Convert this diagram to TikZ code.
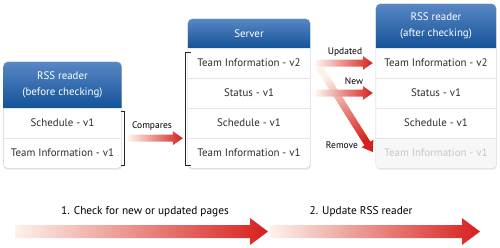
\documentclass[tikz,border=0pt]{standalone}
\usepackage{fontspec}
\setmainfont{PT Sans}
\usetikzlibrary{calc,shadows}

\pgfdeclarelayer{background}
\pgfsetlayers{background,main}

\definecolor{hdtop}{RGB}{88,135,196}
\definecolor{hdbot}{RGB}{20,82,152}
\definecolor{arrred}{RGB}{214,32,28}
\definecolor{arrmid}{RGB}{238,155,118}
\definecolor{arrpale}{RGB}{253,242,235}
\definecolor{rowtxt}{RGB}{45,45,45}
\definecolor{cardline}{RGB}{208,208,208}

% shaded arrow: start, end, shading angle, half shaft, half head, head length
\newcommand{\fadearrow}[6]{%
  \coordinate (fa-c) at ($(#2)!#6!(#1)$);
  \shade[fadearrow, shading angle=#3]
    ($(#1)!#4!90:(#2)$) -- ($(fa-c)!#4!90:(#2)$) -- ($(fa-c)!#5!90:(#2)$) -- (#2)
    -- ($(fa-c)!#5!-90:(#2)$) -- ($(fa-c)!#4!-90:(#2)$) -- ($(#1)!#4!-90:(#2)$) -- cycle;
}

\begin{document}
\begin{tikzpicture}[x=1pt, y=-1pt,
    row/.style={minimum width=#1, minimum height=30pt, inner sep=0pt,
      font=\fontsize{10.9}{12}\selectfont, text=rowtxt},
    head/.style={inner sep=0pt, align=center, text=white,
      font=\fontsize{10.9}{16.5}\selectfont},
    card/.style={draw=cardline, fill=white, rounded corners=4pt,
      drop shadow={shadow xshift=0.5pt, shadow yshift=-1.5pt, opacity=0.2}},
    hdshade/.style={top color=hdtop, bottom color=hdbot, rounded corners=5pt},
    sep/.style={draw=black!10},
    brace/.style={draw=black!85, line width=0.6pt},
    fadearrow/.style={top color=arrpale, middle color=arrmid, bottom color=arrred},
    lbl/.style={font=\fontsize{9.5}{10}\selectfont}
  ]
  \useasboundingbox (0,0) rectangle (500,247);

  % RSS reader before checking
  \node[head, minimum width=118pt, minimum height=46pt] (lhead) at (62.5,85) {RSS reader\\(before checking)};
  \node[row=118pt] (lsch) at (62.5,123) {Schedule - v1};
  \node[row=118pt] (lti1) at (62.5,153) {Team Information - v1};

  % Server
  \node[head, minimum width=122pt, minimum height=29pt] (shead) at (249,33.5) {Server};
  \node[row=122pt] (sti2) at (249,63) {Team Information - v2};
  \node[row=122pt] (sst) at (249,93) {Status - v1};
  \node[row=122pt] (ssch) at (249,123) {Schedule - v1};
  \node[row=122pt] (sti1) at (249,153) {Team Information - v1};

  % RSS reader after checking
  \node[head, minimum width=120pt, minimum height=44pt] (ahead) at (436,26) {RSS reader\\(after checking)};
  \node[row=120pt] (ati2) at (436,63) {Team Information - v2};
  \node[row=120pt] (ast) at (436,93) {Status - v1};
  \node[row=120pt] (asch) at (436,123) {Schedule - v1};
  \node[row=120pt, text=black!22] (ati1) at (436,153) {Team Information - v1};

  \begin{pgfonlayer}{background}
    \path[card] (lhead.north west) rectangle (lti1.south east);
    \path[card] (shead.north west) rectangle (sti1.south east);
    \path[card] (ahead.north west) rectangle (ati1.south east);
    \shade[hdshade] (lhead.south west) -- (lhead.north west) -- (lhead.north east) -- (lhead.south east);
    \shade[hdshade] (shead.south west) -- (shead.north west) -- (shead.north east) -- (shead.south east);
    \shade[hdshade] (ahead.south west) -- (ahead.north west) -- (ahead.north east) -- (ahead.south east);
    \path[fill=black!3, rounded corners=4pt] (ati1.north west) -- (ati1.south west) -- (ati1.south east) -- (ati1.north east);
    \draw[sep] (lsch.south west) -- (lsch.south east);
    \draw[sep] (sti2.south west) -- (sti2.south east);
    \draw[sep] (sst.south west) -- (sst.south east);
    \draw[sep] (ssch.south west) -- (ssch.south east);
    \draw[sep] (ati2.south west) -- (ati2.south east);
    \draw[sep] (ast.south west) -- (ast.south east);
    \draw[sep] (asch.south west) -- (asch.south east);
  \end{pgfonlayer}

  % brackets
  \draw[brace] ($(lsch.north east)+(-1,3)$) -- ++(4,0) |- ($(lti1.south east)+(-1,-3)$);
  \draw[brace] ($(sti2.north west)+(3,4)$) -- ++(-6,0) |- ($(sti1.south west)+(3,-3)$);

  % compare step
  \coordinate (cmpS) at ($(lsch.south east)+(7,0)$);
  \coordinate (cmpE) at ($(ssch.south west)+(-5,0)$);
  \fadearrow{cmpS}{cmpE}{90}{3.5pt}{7pt}{10pt}
  \node[lbl] (cmpL) at (152,126) {Compares};

  % update step
  \coordinate (updS) at ($(sti2.east)+(6,0)$);
  \coordinate (updE) at ($(ati2.west)+(-3,0)$);
  \coordinate (newS) at ($(sst.east)+(6,0)$);
  \coordinate (newE) at ($(ast.west)+(-3,0)$);
  \coordinate (remS) at ($(sti2.east)+(9,4)$);
  \coordinate (remE) at ($(ati1.west)+(-3,-1)$);
  \fadearrow{remS}{remE}{32}{3.5pt}{7pt}{10pt}
  \fadearrow{updS}{updE}{90}{3.5pt}{7pt}{10pt}
  \fadearrow{newS}{newE}{90}{3.5pt}{7pt}{10pt}
  \node[lbl] (updL) at (345,52) {Updated};
  \node[lbl] (newL) at (354,81) {New};
  \node[lbl] (remL) at (342,145) {Remove};

  % steps
  \coordinate (stepA) at (15,231.5);
  \coordinate (stepB) at (268,231.5);
  \coordinate (stepC) at (270,231.5);
  \coordinate (stepD) at (480,231.5);
  \fadearrow{stepA}{stepB}{90}{6.5pt}{13.5pt}{18pt}
  \fadearrow{stepC}{stepD}{90}{6.5pt}{13.5pt}{18pt}
  \node[font=\fontsize{11.3}{13}\selectfont] (step1) at (145,212) {1. Check for new or updated pages};
  \node[font=\fontsize{11.3}{13}\selectfont] (step2) at (361,212) {2. Update RSS reader};
\end{tikzpicture}
\end{document}
